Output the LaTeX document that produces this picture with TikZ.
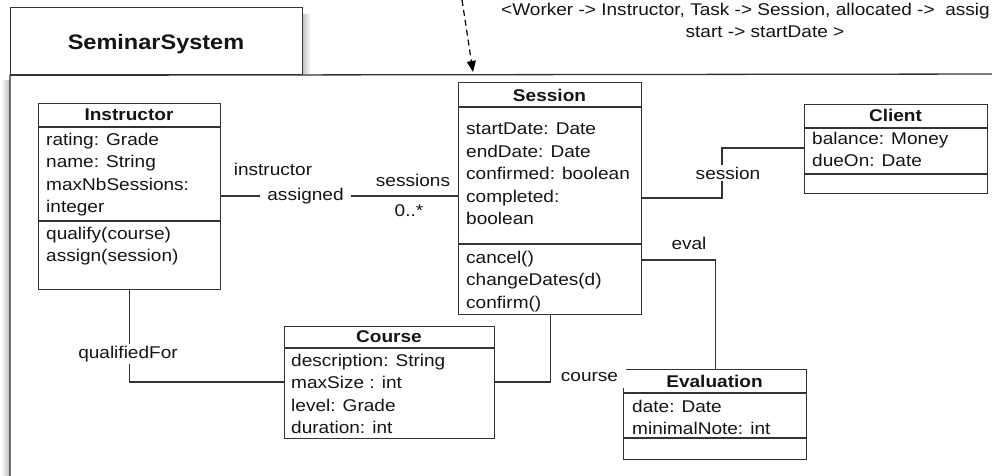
\documentclass[tikz,border=0pt]{standalone}
\usepackage{fontspec}
\setmainfont[FakeStretch=1.12]{Liberation Sans}
\usetikzlibrary{arrows.meta}
\definecolor{inkline}{HTML}{333333}
\definecolor{inktext}{HTML}{141414}
\newcommand\umlfont{\fontsize{17}{22.6}\selectfont}
\begin{document}
\begin{tikzpicture}[x=1pt,y=-1pt,
  every node/.style={font=\umlfont, text=inktext},
  umlbox/.style={draw=inkline, line width=1.3pt, inner sep=0pt, anchor=north west},
  umlline/.style={draw=inkline, line width=1.3pt},
  clsname/.style={font=\umlfont\bfseries, inner sep=0pt},
  members/.style={align=left, anchor=north west, inner sep=0pt},
  rolelabel/.style={inner sep=0pt},
  gaplabel/.style={fill=white, inner xsep=7pt, inner ysep=2pt},
]
\useasboundingbox (0,0) rectangle (992,475);

% soft shadows of the package frame
\shade[left color=white, right color=black!28] (1,80) rectangle (10,475);
\shade[left color=black!22, right color=white] (303,14) rectangle (311,73);

% package SeminarSystem: tab and body outline
\node[umlbox, minimum width=292pt, minimum height=67pt] (pkgtab) at (10,7) {};
\node[font=\fontsize{21}{25}\selectfont\bfseries, inner sep=0pt] (pkgname) at (156,44) {SeminarSystem};
\coordinate (frameBL) at (10,490);
\coordinate (frameTR) at (1010,74);
\draw[umlline] (frameBL) -- (pkgtab.south west) -- (frameTR);

% template binding note and its dependency arrow
\node[rolelabel, anchor=west] (bind1) at (501,11) {<Worker -> Instructor, Task -> Session, allocated ->\ \ assig};
\node[rolelabel] (bind2) at (765,32) {start -> startDate >};
\coordinate (bindsrc) at (462,0);
\coordinate (bindtip) at (473,72);
\draw[draw=black, line width=1.2pt, dash pattern=on 6pt off 4pt,
      -{Triangle[length=11pt,width=9pt]}] (bindsrc) -- (bindtip);

% ---------------- classes ----------------
% Instructor
\node[umlbox, minimum width=182pt, minimum height=186pt] (instr) at (38,103) {};
\coordinate (instrH) at (0,127);
\coordinate (instrA) at (0,221);
\draw[umlline] (instr.west |- instrH) -- (instr.east |- instrH);
\draw[umlline] (instr.west |- instrA) -- (instr.east |- instrA);
\node[clsname] (instrT) at (129,115) {Instructor};
\node[members] (instrAt) at (46,132.5) {rating: Grade\\name: String\\maxNbSessions:\\integer};
\node[members] (instrOp) at (46,226.5) {qualify(course)\\assign(session)};

% Session
\node[umlbox, minimum width=183pt, minimum height=232pt] (sess) at (458,82) {};
\coordinate (sessH) at (0,107);
\coordinate (sessA) at (0,244);
\draw[umlline] (sess.west |- sessH) -- (sess.east |- sessH);
\draw[umlline] (sess.west |- sessA) -- (sess.east |- sessA);
\node[clsname] (sessT) at (549.5,95) {Session};
\node[members] (sessAt) at (466,122.5) {startDate: Date\\endDate: Date\\confirmed: boolean\\completed:\\boolean};
\node[members] (sessOp) at (466,250.5) {cancel()\\changeDates(d)\\confirm()};

% Client
\node[umlbox, minimum width=183pt, minimum height=89pt] (client) at (804,104) {};
\coordinate (clientH) at (0,128);
\coordinate (clientA) at (0,174);
\draw[umlline] (client.west |- clientH) -- (client.east |- clientH);
\draw[umlline] (client.west |- clientA) -- (client.east |- clientA);
\node[clsname] (clientT) at (895.5,115) {Client};
\node[members] (clientAt) at (812,131.5) {balance: Money\\dueOn: Date};

% Course
\node[umlbox, minimum width=210pt, minimum height=112pt] (course) at (284,326) {};
\coordinate (courseH) at (0,348);
\draw[umlline] (course.west |- courseH) -- (course.east |- courseH);
\node[clsname] (courseT) at (389,337) {Course};
\node[members] (courseAt) at (291,353.5) {description: String\\maxSize : int\\level: Grade\\duration: int};

% Evaluation
\node[umlbox, minimum width=183pt, minimum height=90pt] (eval) at (623,369) {};
\coordinate (evalH) at (0,393);
\coordinate (evalA) at (0,438);
\draw[umlline] (eval.west |- evalH) -- (eval.east |- evalH);
\draw[umlline] (eval.west |- evalA) -- (eval.east |- evalA);
\node[clsname] (evalT) at (714.5,381) {Evaluation};
\node[members] (evalAt) at (632,399.5) {date: Date\\minimalNote: int};

% ---------------- associations ----------------
\coordinate (yAssign) at (0,196);
\coordinate (yClientLow) at (0,198);
\coordinate (yClientHigh) at (0,148);
\coordinate (xClient) at (722,0);
\coordinate (yEval) at (0,260);
\coordinate (yCourse) at (0,382);

% Instructor -- Session (assigned)
\draw[umlline] (instr.east |- yAssign) -- (sess.west |- yAssign);
\node[gaplabel] (lblAssigned) at (305.5,196) {assigned};
\node[rolelabel] (lblInstructor) at (273,169) {instructor};
\node[rolelabel] (lblSessions) at (413,180) {sessions};
\node[rolelabel] (lblMult) at (409,211) {0..*};

% Session -- Client
\draw[umlline] (sess.east |- yClientLow) -- (xClient |- yClientLow)
  -- (xClient |- yClientHigh) -- (client.west |- yClientHigh);
\node[gaplabel, inner xsep=2pt] (lblSession) at (728,173) {session};

% Session -- Evaluation
\draw[umlline] (sess.east |- yEval) -| (eval.north);
\node[rolelabel] (lblEval) at (689,243) {eval};

% Instructor -- Course
\draw[umlline] (instr.south) |- (course.west |- yCourse);
\node[gaplabel, inner xsep=2pt] (lblQualified) at (128,354) {qualifiedFor};

% Session -- Course
\draw[umlline] (sess.south) |- (course.east |- yCourse);
\node[fill=white, inner sep=0pt, minimum width=73pt, minimum height=22pt] (lblCourse) at (589.5,377) {course};
\end{tikzpicture}
\end{document}
